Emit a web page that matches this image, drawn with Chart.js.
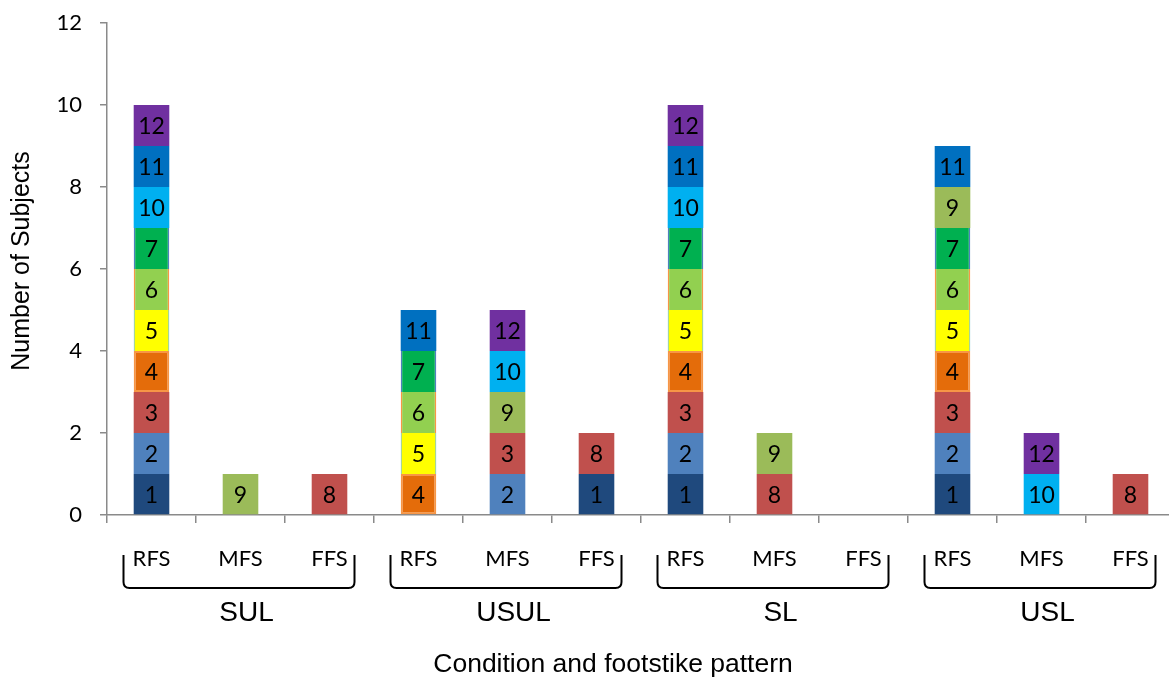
<!DOCTYPE html>
<html>
<head>
<meta charset="utf-8">
<script src="https://cdn.jsdelivr.net/npm/chart.js@4.4.0/dist/chart.umd.min.js"></script>
<style>
  html, body { margin: 0; padding: 0; background: #fff; overflow: hidden; }
  #wrap { width: 1180px; height: 681px; }
</style>
</head>
<body>
<div id="wrap"><canvas id="footstrikeChart" width="1180" height="681"></canvas></div>
<script>
// bars: 4 conditions x 3 footstrike patterns
const conditions = ['SUL', 'USUL', 'SL', 'USL'];
const patterns = ['RFS', 'MFS', 'FFS'];
const barLabels = ['RFS', 'MFS', 'FFS', 'RFS', 'MFS', 'FFS', 'RFS', 'MFS', 'FFS', 'RFS', 'MFS', 'FFS'];

// one series per subject: 1 = subject counted in that bar
const subject1  = [1, 0, 0, 0, 0, 1, 1, 0, 0, 1, 0, 0];
const subject2  = [1, 0, 0, 0, 1, 0, 1, 0, 0, 1, 0, 0];
const subject3  = [1, 0, 0, 0, 1, 0, 1, 0, 0, 1, 0, 0];
const subject4  = [1, 0, 0, 1, 0, 0, 1, 0, 0, 1, 0, 0];
const subject5  = [1, 0, 0, 1, 0, 0, 1, 0, 0, 1, 0, 0];
const subject6  = [1, 0, 0, 1, 0, 0, 1, 0, 0, 1, 0, 0];
const subject7  = [1, 0, 0, 1, 0, 0, 1, 0, 0, 1, 0, 0];
const subject8  = [0, 0, 1, 0, 0, 1, 0, 1, 0, 0, 0, 1];
const subject9  = [0, 1, 0, 0, 1, 0, 0, 1, 0, 1, 0, 0];
const subject10 = [1, 0, 0, 0, 1, 0, 1, 0, 0, 0, 1, 0];
const subject11 = [1, 0, 0, 1, 0, 0, 1, 0, 0, 1, 0, 0];
const subject12 = [1, 0, 0, 0, 1, 0, 1, 0, 0, 0, 1, 0];

const subjects = [subject1, subject2, subject3, subject4, subject5, subject6,
                  subject7, subject8, subject9, subject10, subject11, subject12];
const subjectColors = ['#1F497D', '#4F81BD', '#C0504D', '#E46C0A', '#FFFF00', '#92D050',
                       '#00B050', '#C0504D', '#9BBB59', '#00B0F0', '#0070C0', '#7030A0'];
const yTicks = [0, 2, 4, 6, 8, 10, 12];

const calibriLike = 'Lato, "Open Sans", sans-serif';
const arialLike = '"Liberation Sans", Arial, sans-serif';
const axisGray = '#8a8a8a';

const datasets = subjects.map((vals, i) => {
  const ds = {
    label: String(i + 1),
    data: vals.map(v => v || null),
    backgroundColor: subjectColors[i],
    borderWidth: 0,
    borderSkipped: false,
    barPercentage: 1,
    categoryPercentage: 0.4,
  };
  // excel left some outlines on a few series
  if (i === 3) { ds.borderColor = '#F79646'; ds.borderWidth = 2; }
  if (i === 4) { ds.borderColor = '#4BACC6'; ds.borderWidth = { left: 1, right: 1 }; }
  if (i === 5) { ds.borderColor = '#F79646'; ds.borderWidth = { left: 1.5, right: 1.5 }; }
  if (i === 6) { ds.borderColor = '#4F81BD'; ds.borderWidth = { left: 1.5, right: 1.5 }; }
  return ds;
});

// subject number in the middle of each segment
const segmentLabels = {
  id: 'segmentLabels',
  afterDatasetsDraw(chart) {
    const ctx = chart.ctx;
    ctx.save();
    ctx.font = '23px ' + calibriLike;
    ctx.fillStyle = '#000';
    ctx.textAlign = 'center';
    ctx.textBaseline = 'middle';
    chart.data.datasets.forEach((ds, di) => {
      const meta = chart.getDatasetMeta(di);
      meta.data.forEach((bar, j) => {
        if (!ds.data[j]) return;
        ctx.fillText(ds.label, bar.x, (bar.y + bar.base) / 2 + 1);
      });
    });
    ctx.restore();
  }
};

// two level category axis with brackets, plus axis titles
const groupAxis = {
  id: 'groupAxis',
  afterDraw(chart) {
    const ctx = chart.ctx;
    const xs = chart.scales.x;
    const bottom = chart.chartArea.bottom;
    ctx.save();
    ctx.fillStyle = '#000';
    ctx.strokeStyle = '#000';
    ctx.textAlign = 'center';
    ctx.textBaseline = 'middle';

    ctx.font = '22px ' + calibriLike;
    barLabels.forEach((lab, i) => {
      ctx.fillText(lab, xs.getPixelForValue(i), bottom + 44);
    });

    conditions.forEach((cond, g) => {
      const c0 = xs.getPixelForValue(g * patterns.length);
      const c2 = xs.getPixelForValue(g * patterns.length + patterns.length - 1);
      const x0 = c0 - 28, x1 = c2 + 25;
      const yTop = bottom + 40, yBot = bottom + 73, r = 6;
      ctx.lineWidth = 2;
      ctx.beginPath();
      ctx.moveTo(x0, yTop);
      ctx.lineTo(x0, yBot - r);
      ctx.quadraticCurveTo(x0, yBot, x0 + r, yBot);
      ctx.lineTo(x1 - r, yBot);
      ctx.quadraticCurveTo(x1, yBot, x1, yBot - r);
      ctx.lineTo(x1, yTop);
      ctx.stroke();

      ctx.font = '28px ' + arialLike;
      ctx.fillText(cond, (c0 + c2) / 2 + 6, bottom + 98);
    });

    ctx.font = '26.5px ' + arialLike;
    ctx.fillText('Condition and footstike pattern', 613, bottom + 150);

    ctx.translate(22, 261);
    ctx.rotate(-Math.PI / 2);
    ctx.font = '25px ' + arialLike;
    ctx.fillText('Number of Subjects', 0, 0);
    ctx.restore();
  }
};

new Chart(document.getElementById('footstrikeChart'), {
  type: 'bar',
  data: { labels: barLabels, datasets: datasets },
  options: {
    responsive: false,
    animation: false,
    layout: { padding: { top: 23, right: 5, left: 0, bottom: 0 } },
    plugins: {
      legend: { display: false },
      tooltip: { enabled: false },
    },
    scales: {
      x: {
        stacked: true,
        offset: true,
        ticks: { display: false },
        grid: { drawOnChartArea: false, offset: true, tickLength: 8, color: axisGray, lineWidth: 1.5 },
        border: { color: axisGray, width: 1.5 },
        afterFit(scale) { scale.height = 166; },
      },
      y: {
        stacked: true,
        min: 0,
        max: 12,
        afterBuildTicks(scale) { scale.ticks = yTicks.map(v => ({ value: v })); },
        ticks: { font: { family: calibriLike, size: 22 }, color: '#000', padding: 18 },
        grid: { drawOnChartArea: false, tickLength: 7, color: axisGray, lineWidth: 1.5 },
        border: { color: axisGray, width: 1.5 },
        afterFit(scale) {
          scale.width = 107;
          scale.paddingTop = 0;
          scale.paddingBottom = 0;
        },
      },
    },
  },
  plugins: [segmentLabels, groupAxis],
});
</script>
</body>
</html>
